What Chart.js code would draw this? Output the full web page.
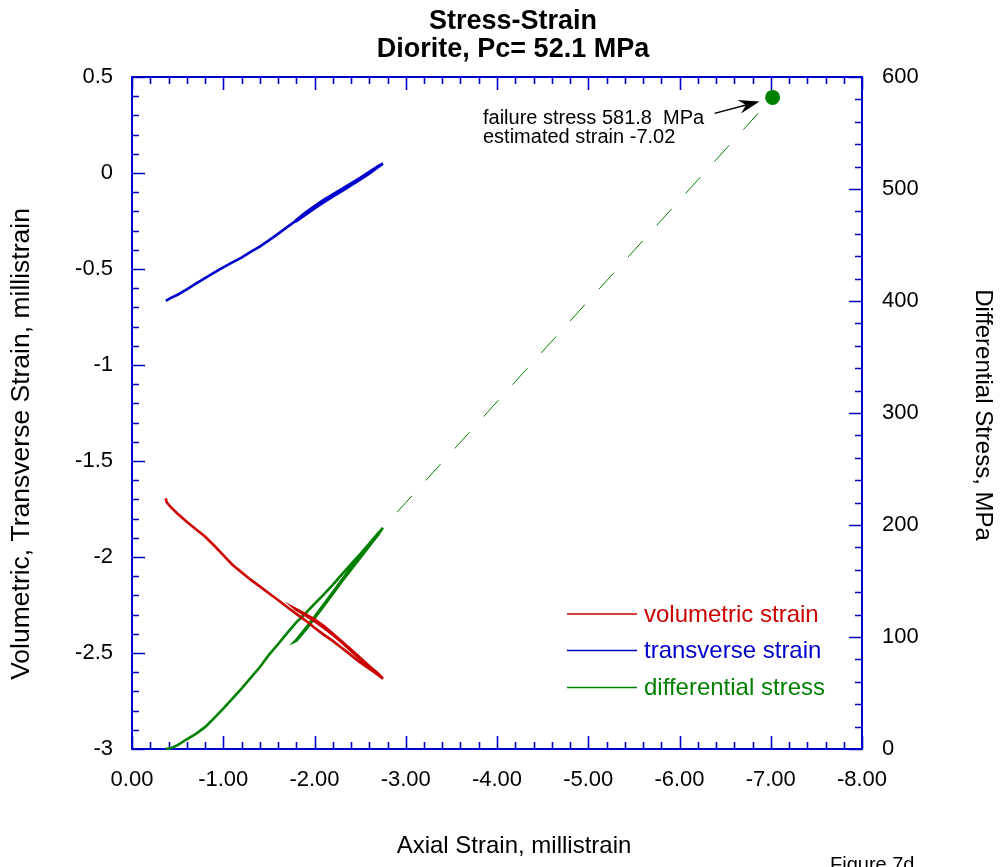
<!DOCTYPE html>
<html>
<head>
<meta charset="utf-8">
<script src="https://cdn.jsdelivr.net/npm/chart.js@4.4.1/dist/chart.umd.min.js"></script>
<style>
html,body{margin:0;padding:0;background:#fff;}
#wrap{width:1000px;height:867px;position:relative;}
</style>
</head>
<body>
<div id="wrap"><canvas id="c" width="1000" height="867"></canvas></div>
<script>
// ---- Data ----
// Axial strain path: loading, unloading, reloading (millistrain)
const axialStrain = [
  -0.37,-0.38,-0.42,-0.50,-0.60,-0.70,-0.80,-0.90,-1.00,-1.10,-1.20,-1.30,-1.40,-1.50,-1.60,-1.70,-1.80,-1.90,-2.00,-2.10,-2.20,-2.30,-2.40,-2.50,-2.60,-2.70,-2.75,
  -2.70,-2.60,-2.50,-2.40,-2.30,-2.20,-2.10,-2.00,-1.90,-1.80,-1.78,
  -1.80,-1.90,-2.00,-2.10,-2.20,-2.30,-2.40,-2.50,-2.60,-2.70,-2.75
];
const volumetricStrain = [
  -1.694,-1.715,-1.738,-1.775,-1.816,-1.855,-1.893,-1.940,-1.990,-2.040,-2.080,-2.118,-2.153,-2.189,-2.224,-2.260,-2.296,-2.330,-2.369,-2.404,-2.437,-2.474,-2.511,-2.549,-2.582,-2.615,-2.634,
  -2.608,-2.568,-2.525,-2.482,-2.440,-2.398,-2.358,-2.325,-2.298,-2.272,-2.267,
  -2.275,-2.304,-2.334,-2.368,-2.405,-2.446,-2.489,-2.532,-2.574,-2.614,-2.634
];
const transverseStrain = [
  -0.665,-0.663,-0.652,-0.634,-0.606,-0.576,-0.548,-0.519,-0.491,-0.466,-0.441,-0.411,-0.383,-0.351,-0.317,-0.282,-0.247,-0.213,-0.180,-0.148,-0.119,-0.091,-0.062,-0.032,0.000,0.033,0.049,
  0.037,0.006,-0.025,-0.054,-0.083,-0.111,-0.140,-0.172,-0.206,-0.244,-0.254,
  -0.252,-0.218,-0.185,-0.153,-0.123,-0.094,-0.065,-0.035,-0.003,0.031,0.049
];
const differentialStress = [
  0,0.2,0.6,3.5,8.7,13.5,19.5,27.5,36,45,54,63.5,73,84,93.5,103.5,113,121,129.5,137.8,146.5,156,165,174,183.5,193,197.5,
  192.5,183,172.5,162,151,140,129,118,107.5,97.5,95.8,
  96.5,106,116.5,127.5,138.5,149.5,160,170.5,181,191.5,197.5
];
const failureStrain = -7.02;
const failureStress = 581.8;

// Tick values / labels
const xTicks = [0,-1,-2,-3,-4,-5,-6,-7,-8];
const yLeftTicks = [0.5,0,-0.5,-1,-1.5,-2,-2.5,-3];
const yRightTicks = [0,100,200,300,400,500,600];

const titleLines = ['Stress-Strain','Diorite, Pc= 52.1 MPa'];
const xTitle = 'Axial Strain, millistrain';
const yLeftTitle = 'Volumetric, Transverse Strain, millistrain';
const yRightTitle = 'Differential Stress, MPa';
const legendLabels = ['volumetric strain','transverse strain','differential stress'];
const annotationLines = ['failure stress 581.8  MPa','estimated strain -7.02'];
const figureLabel = 'Figure 7d';

// ---- Styles ----
const RED = '#cc0000', BLUE = '#0000cc', GREEN = '#008000', AXIS = '#0000cc';
const FONT = '"Liberation Sans", Arial, Helvetica, sans-serif';

const toPts = (xs, ys) => xs.map((x, i) => ({x: x, y: ys[i]}));

const deco = {
  id: 'deco',
  beforeDatasetsDraw(chart) {
    const ctx = chart.ctx, a = chart.chartArea;
    const sx = chart.scales.x, sl = chart.scales.y, sr = chart.scales.y2;
    ctx.save();
    ctx.strokeStyle = AXIS;
    ctx.lineWidth = 2;
    ctx.strokeRect(a.left, a.top, a.right - a.left, a.bottom - a.top);
    ctx.lineWidth = 1.6;
    ctx.beginPath();
    // x ticks (bottom and top, inward)
    for (let i = 0; i <= 40; i++) {
      const v = -i * 0.2;
      const px = Math.round(sx.getPixelForValue(v)) + 0.5;
      const len = (i % 5 === 0) ? 13 : 7;
      ctx.moveTo(px, a.bottom); ctx.lineTo(px, a.bottom - len);
      ctx.moveTo(px, a.top); ctx.lineTo(px, a.top + len);
    }
    // left y ticks
    for (let i = 0; i <= 35; i++) {
      const v = 0.5 - i * 0.1;
      const py = Math.round(sl.getPixelForValue(v)) + 0.5;
      const len = (i % 5 === 0) ? 13 : 7;
      ctx.moveTo(a.left, py); ctx.lineTo(a.left + len, py);
    }
    // right y ticks
    for (let i = 0; i <= 30; i++) {
      const v = i * 20;
      const py = Math.round(sr.getPixelForValue(v)) + 0.5;
      const len = (i % 5 === 0) ? 13 : 7;
      ctx.moveTo(a.right, py); ctx.lineTo(a.right - len, py);
    }
    ctx.stroke();
    ctx.restore();
  },
  afterDraw(chart) {
    const ctx = chart.ctx, a = chart.chartArea;
    const sx = chart.scales.x, sr = chart.scales.y2;
    ctx.save();
    ctx.fillStyle = '#000';
    // Title
    ctx.textAlign = 'center';
    ctx.textBaseline = 'alphabetic';
    ctx.font = 'bold 27px ' + FONT;
    ctx.fillText(titleLines[0], 513, 29);
    ctx.fillText(titleLines[1], 513, 57);
    // X title
    ctx.font = '24px ' + FONT;
    ctx.fillText(xTitle, 514, 853);
    // Right title
    ctx.save();
    ctx.translate(983, 415);
    ctx.rotate(Math.PI / 2);
    ctx.textBaseline = 'middle';
    ctx.fillText(yRightTitle, 0, 0);
    ctx.restore();
    // Left title
    ctx.save();
    ctx.font = '26.5px ' + FONT;
    ctx.translate(22, 444);
    ctx.rotate(-Math.PI / 2);
    ctx.textBaseline = 'middle';
    ctx.fillText(yLeftTitle, 0, 0);
    ctx.restore();
    // Annotation
    ctx.textAlign = 'left';
    ctx.font = '20px ' + FONT;
    ctx.fillText(annotationLines[0], 483, 124);
    ctx.fillText(annotationLines[1], 483, 143);
    // Arrow to failure point
    const fx = sx.getPixelForValue(failureStrain), fy = sr.getPixelForValue(failureStress);
    const tipX = fx - 13, tipY = fy + 4;
    const stX = fx - 58, stY = fy + 16;
    const ang = Math.atan2(tipY - stY, tipX - stX);
    ctx.strokeStyle = '#000';
    ctx.lineWidth = 1.5;
    ctx.beginPath();
    ctx.moveTo(stX, stY);
    ctx.lineTo(tipX - 14 * Math.cos(ang), tipY - 14 * Math.sin(ang));
    ctx.stroke();
    ctx.beginPath();
    ctx.moveTo(tipX, tipY);
    ctx.lineTo(tipX - 21 * Math.cos(ang) + 7 * Math.sin(ang), tipY - 21 * Math.sin(ang) - 7 * Math.cos(ang));
    ctx.lineTo(tipX - 14 * Math.cos(ang), tipY - 14 * Math.sin(ang));
    ctx.lineTo(tipX - 21 * Math.cos(ang) - 7 * Math.sin(ang), tipY - 21 * Math.sin(ang) + 7 * Math.cos(ang));
    ctx.closePath();
    ctx.fillStyle = '#000';
    ctx.fill();
    // Legend
    const cols = [RED, BLUE, GREEN];
    const ys = [614, 650.5, 687.5];
    ctx.font = '24px ' + FONT;
    ctx.textBaseline = 'middle';
    for (let i = 0; i < 3; i++) {
      ctx.strokeStyle = cols[i];
      ctx.lineWidth = 1.5;
      ctx.beginPath();
      ctx.moveTo(567, ys[i]); ctx.lineTo(637, ys[i]);
      ctx.stroke();
      ctx.fillStyle = cols[i];
      ctx.fillText(legendLabels[i], 644, ys[i] + 1);
    }
    // Figure label
    ctx.fillStyle = '#000';
    ctx.font = '20px ' + FONT;
    ctx.textBaseline = 'alphabetic';
    ctx.fillText(figureLabel, 830, 871);
    ctx.restore();
  }
};

const lastIdx = axialStrain.length - 1;

new Chart(document.getElementById('c'), {
  type: 'scatter',
  data: {
    datasets: [
      {label: legendLabels[0], data: toPts(axialStrain, volumetricStrain), yAxisID: 'y', showLine: true,
       borderColor: RED, borderWidth: 2.6, pointRadius: 0, tension: 0, clip: false},
      {label: legendLabels[1], data: toPts(axialStrain, transverseStrain), yAxisID: 'y', showLine: true,
       borderColor: BLUE, borderWidth: 2.6, pointRadius: 0, tension: 0, clip: false},
      {label: legendLabels[2], data: toPts(axialStrain, differentialStress), yAxisID: 'y2', showLine: true,
       borderColor: GREEN, borderWidth: 2.6, pointRadius: 0, tension: 0, clip: false},
      {label: 'extrapolation', data: [{x: axialStrain[lastIdx], y: differentialStress[lastIdx]}, {x: failureStrain, y: failureStress}],
       yAxisID: 'y2', showLine: true, borderColor: GREEN, borderWidth: 1, borderDash: [22, 21], borderDashOffset: 22,
       pointRadius: 0, tension: 0, clip: false},
      {label: 'failure', data: [{x: failureStrain, y: failureStress}], yAxisID: 'y2', showLine: false,
       pointRadius: 7.5, pointBackgroundColor: GREEN, pointBorderColor: GREEN, pointBorderWidth: 0, clip: false}
    ]
  },
  options: {
    responsive: false,
    animation: false,
    devicePixelRatio: 1,
    layout: {padding: {top: 77, left: 0, right: 0, bottom: 0}},
    plugins: {legend: {display: false}, title: {display: false}, tooltip: {enabled: false}},
    scales: {
      x: {
        type: 'linear', position: 'bottom', min: -8, max: 0, reverse: true,
        afterBuildTicks: s => { s.ticks = xTicks.map(v => ({value: v})); },
        afterFit: s => { s.height = 118; },
        grid: {display: false, drawTicks: false},
        border: {display: false},
        ticks: {color: '#000', font: {family: FONT, size: 22}, padding: 18, maxRotation: 0,
                callback: v => Number(v).toFixed(2)}
      },
      y: {
        type: 'linear', position: 'left', min: -3, max: 0.5,
        afterBuildTicks: s => { s.ticks = yLeftTicks.map(v => ({value: v})); },
        afterFit: s => { s.width = 132; },
        grid: {display: false, drawTicks: false},
        border: {display: false},
        ticks: {color: '#000', font: {family: FONT, size: 22}, padding: 19,
                callback: v => String(Number(v))}
      },
      y2: {
        type: 'linear', position: 'right', min: 0, max: 600,
        afterBuildTicks: s => { s.ticks = yRightTicks.map(v => ({value: v})); },
        afterFit: s => { s.width = 138; },
        grid: {display: false, drawTicks: false},
        border: {display: false},
        ticks: {color: '#000', font: {family: FONT, size: 22}, padding: 20,
                callback: v => String(Number(v))}
      }
    }
  },
  plugins: [deco]
});
</script>
</body>
</html>
